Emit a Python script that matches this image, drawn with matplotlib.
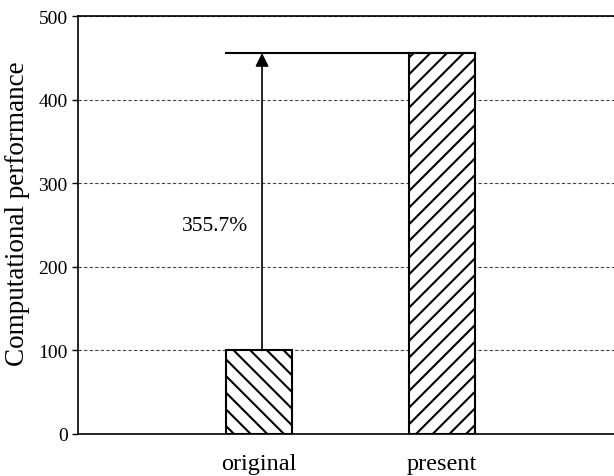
import numpy as np
import matplotlib.pyplot as plt

plt.rcParams['font.family'] = ['Liberation Serif', 'DejaVu Serif']
plt.rcParams['hatch.linewidth'] = 1.5

categories = ['original', 'present']
values = [100, 455.7]
hatches = ['\\\\', '//']
gain_label = '355.7%'

fig = plt.figure(figsize=(6.14, 4.77), dpi=100)
ax = fig.add_axes([78/614, 42/477, 1 - 78/614, 418/477])

x = np.arange(1, len(categories) + 1)
w = 0.36
for xi, v, h in zip(x, values, hatches):
    ax.bar(xi, v, width=w, color='white', edgecolor='black', hatch=h,
           linewidth=1.5, zorder=3)

ax.set_xlim(0.01, 2.94)
ax.set_ylim(0, 500)
ax.set_yticks(np.arange(0, 501, 100))
ax.set_xticks(x)
ax.set_xticklabels(categories, fontsize=17.5)
ax.tick_params(axis='x', length=0, pad=14)
ax.tick_params(axis='y', labelsize=14, direction='out', length=4, width=1)
ax.set_ylabel('Computational performance', fontsize=19.5)
ax.yaxis.set_label_coords(-0.09, 0.529)
ax.yaxis.grid(True, linestyle=(0, (3, 2)), color='#444444', linewidth=0.8)
ax.spines['right'].set_visible(False)
for s in ['left', 'top', 'bottom']:
    ax.spines[s].set_linewidth(1.2)

# gain annotation
ax.plot([x[0] - w/2, x[1] + w/2], [values[1], values[1]], color='black',
        linewidth=1.5, zorder=4)
ax.annotate('', xy=(x[0] + 0.016, values[1]), xytext=(x[0] + 0.016, values[0]),
            arrowprops=dict(arrowstyle='-|>', color='black', lw=1.2,
                            mutation_scale=20, shrinkA=0, shrinkB=0), zorder=4)
ax.text(0.76, 249, gain_label, fontsize=15.5, ha='center', va='center')

fig.savefig('out.png', dpi=100)
